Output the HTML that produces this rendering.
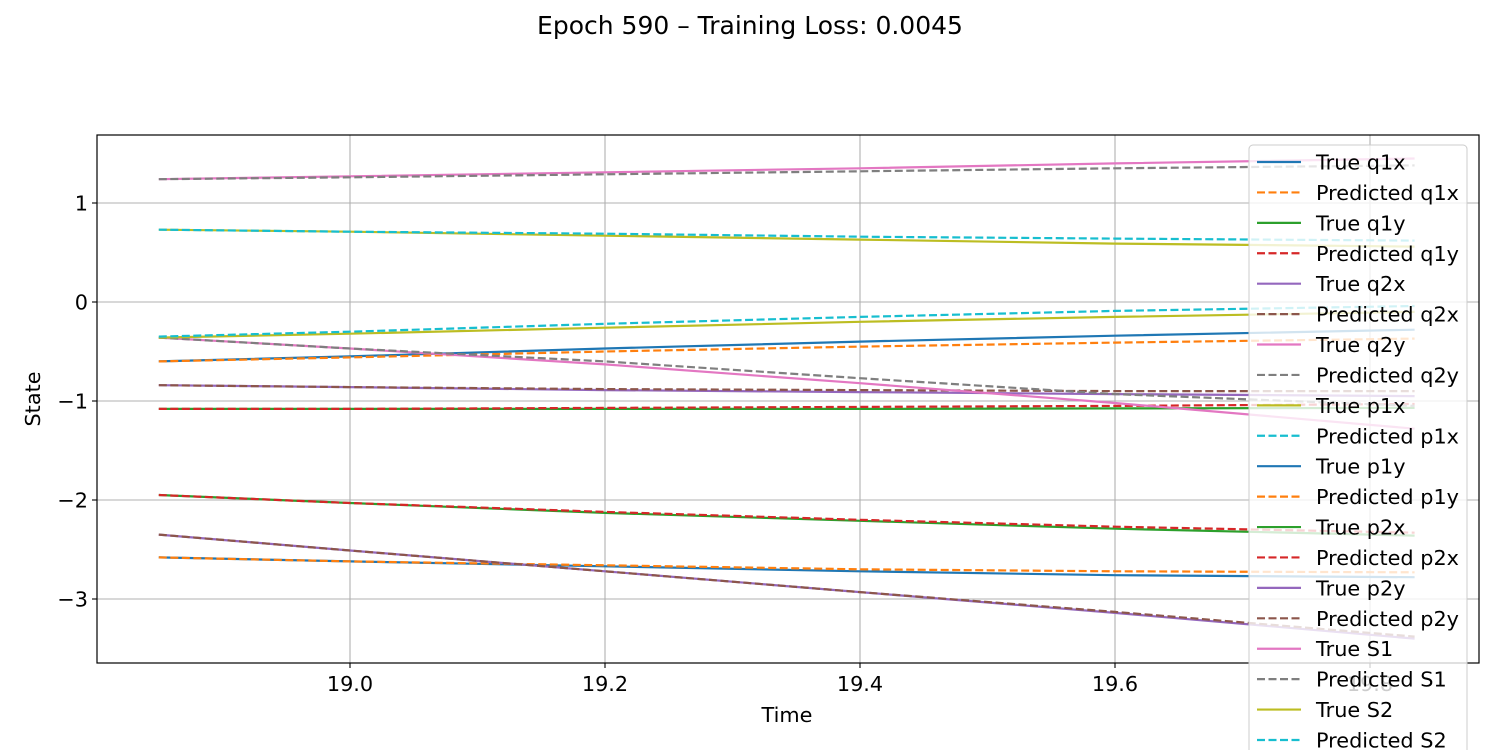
<!DOCTYPE html>
<html><head><meta charset="utf-8">
<style>
body{margin:0;background:#fff;}
svg{display:block;font-family:"DejaVu Sans","Liberation Sans",sans-serif;}
</style></head>
<body>
<svg id="chart" width="1500" height="750">
<text x="750" y="34" text-anchor="middle" font-size="25">Epoch 590 – Training Loss: 0.0045</text>
<g id="grid"></g>
<g id="series"></g>
<rect x="97" y="135" width="1382" height="528" fill="none" stroke="#000" stroke-width="1.2"/>
<g id="axes"></g>
<text x="787" y="722" text-anchor="middle" font-size="20.8">Time</text>
<text transform="translate(40,399) rotate(-90)" text-anchor="middle" font-size="20.8">State</text>
<g id="legend"></g>
</svg>
<script>
const times = [18.85, 19.0, 19.2, 19.4, 19.6, 19.835];
const xTicks = [19.0, 19.2, 19.4, 19.6, 19.8];
const xTickLabels = ["19.0", "19.2", "19.4", "19.6", "19.8"];
const yTicks = [1, 0, -1, -2, -3];
const yTickLabels = ["1", "0", "\u22121", "\u22122", "\u22123"];
const seriesNames = ["True q1x","Predicted q1x","True q1y","Predicted q1y","True q2x","Predicted q2x","True q2y","Predicted q2y","True p1x","Predicted p1x","True p1y","Predicted p1y","True p2x","Predicted p2x","True p2y","Predicted p2y","True S1","Predicted S1","True S2","Predicted S2"];
const trueQ1x = [-0.6,-0.55,-0.47,-0.4,-0.34,-0.28];
const predQ1x = [-0.6,-0.56,-0.5,-0.45,-0.41,-0.37];
const trueQ1y = [-1.08,-1.08,-1.08,-1.08,-1.075,-1.07];
const predQ1y = [-1.08,-1.08,-1.07,-1.06,-1.05,-1.03];
const trueQ2x = [-0.84,-0.86,-0.89,-0.91,-0.93,-0.95];
const predQ2x = [-0.84,-0.86,-0.88,-0.89,-0.9,-0.9];
const trueQ2y = [-0.36,-0.47,-0.63,-0.82,-1.02,-1.28];
const predQ2y = [-0.36,-0.47,-0.6,-0.77,-0.93,-1.05];
const trueP1x = [0.73,0.71,0.67,0.63,0.59,0.56];
const predP1x = [0.73,0.71,0.69,0.66,0.64,0.62];
const trueP1y = [-2.58,-2.62,-2.67,-2.72,-2.76,-2.78];
const predP1y = [-2.58,-2.62,-2.66,-2.7,-2.72,-2.73];
const trueP2x = [-1.95,-2.03,-2.13,-2.21,-2.29,-2.36];
const predP2x = [-1.95,-2.03,-2.12,-2.2,-2.27,-2.33];
const trueP2y = [-2.35,-2.51,-2.72,-2.93,-3.14,-3.4];
const predP2y = [-2.35,-2.51,-2.72,-2.93,-3.13,-3.38];
const trueS1 = [1.24,1.27,1.31,1.35,1.4,1.45];
const predS1 = [1.24,1.26,1.29,1.32,1.35,1.38];
const trueS2 = [-0.36,-0.32,-0.26,-0.2,-0.15,-0.1];
const predS2 = [-0.35,-0.3,-0.22,-0.15,-0.09,-0.04];
const allValues = [trueQ1x,predQ1x,trueQ1y,predQ1y,trueQ2x,predQ2x,trueQ2y,predQ2y,trueP1x,predP1x,trueP1y,predP1y,trueP2x,predP2x,trueP2y,predP2y,trueS1,predS1,trueS2,predS2];
const colors = ["#1f77b4","#ff7f0e","#2ca02c","#d62728","#9467bd","#8c564b","#e377c2","#7f7f7f","#bcbd22","#17becf"];

const NS = "http://www.w3.org/2000/svg";
function xs(t){ return 350 + (t - 19.0) / 0.2 * 255; }
function ys(v){ return 302 - v * 99; }
function mk(tag, attrs, parent){ const e=document.createElementNS(NS,tag); for(const k in attrs) e.setAttribute(k,attrs[k]); parent.appendChild(e); return e; }

const grid=document.getElementById('grid'), axes=document.getElementById('axes');
xTicks.forEach((t,i)=>{
  const g=mk('line',{x1:xs(t),x2:xs(t),y1:135,y2:663,stroke:'#b0b0b0','stroke-width':1.1},grid);
  
  
  const tk=mk('line',{x1:xs(t),x2:xs(t),y1:663,y2:668,stroke:'#000','stroke-width':1.1},axes);
  
  
  const tx=mk('text',{x:xs(t),y:691,'text-anchor':'middle','font-size':20.8},axes);
  tx.textContent=xTickLabels[i];
  
  
});
yTicks.forEach((v,i)=>{
  const g=mk('line',{x1:97,x2:1479,y1:ys(v),y2:ys(v),stroke:'#b0b0b0','stroke-width':1.1},grid);
  
  
  const tk=mk('line',{x1:92,x2:97,y1:ys(v),y2:ys(v),stroke:'#000','stroke-width':1.1},axes);
  
  
  const tx=mk('text',{x:88,y:ys(v)+7.5,'text-anchor':'end','font-size':20.8},axes);
  tx.textContent=yTickLabels[i];
  
  
});

const ser=document.getElementById('series');
allValues.forEach((vals,i)=>{
  const pts=vals.map((v,j)=>xs(times[j]).toFixed(1)+','+ys(v).toFixed(1)).join(' ');
  const attrs={points:pts,fill:'none',stroke:colors[i%10],'stroke-width':2.2};
  if(i%2===1) attrs['stroke-dasharray']='8,3.5';
  const p=mk('polyline',attrs,ser);
  
  
});

const leg=document.getElementById('legend');
const lb=mk('rect',{x:1249,y:145,width:218,height:620,rx:4,fill:'rgba(255,255,255,0.8)',stroke:'#ccc','stroke-width':1},leg);


seriesNames.forEach((n,i)=>{
  const y=162+i*30.42;
  const g=mk('g',{},leg);
  
  
  const a={x1:1257,x2:1301,y1:y,y2:y,stroke:colors[i%10],'stroke-width':2.2};
  if(i%2===1) a['stroke-dasharray']='8,3.5';
  mk('line',a,g);
  const t=mk('text',{x:1316,y:y+7.5,'font-size':20.8},g);
  t.textContent=n;
});
</script>
</body></html>
